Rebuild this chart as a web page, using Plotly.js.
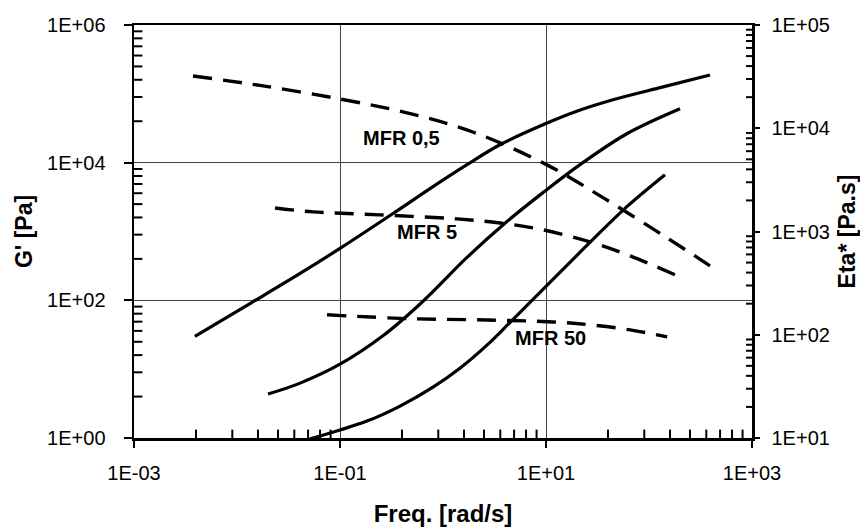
<!DOCTYPE html>
<html>
<head>
<meta charset="utf-8">
<script src="https://cdn.plot.ly/plotly-3.0.1.min.js"></script>
<style>html,body{margin:0;padding:0;background:#fff;}#chart{width:860px;height:527px;}</style>
</head>
<body>
<div id="chart"></div>
<script>
// Frequency [rad/s] and G' [Pa] per grade
const freqG05 = [0.0039, 0.014, 0.041, 0.1, 0.327, 0.748, 1.71, 3.57, 9.35, 20.5, 44.7, 137, 391];
const gG05    = [30, 93.6, 246, 568, 1824, 4200, 9350, 18200, 35500, 56700, 81900, 126000, 188000];

const freqG5  = [0.02, 0.041, 0.1, 0.261, 0.64, 1.71, 4.18, 9.35, 21.4, 61, 200];
const gG5     = [4.35, 6.27, 11.8, 30.5, 97, 420, 1396, 3670, 9350, 26300, 60600];

const freqG50 = [0.0512, 0.1, 0.183, 0.383, 0.80, 1.46, 2.67, 4.79, 9.78, 26.7, 61, 143];
const gG50    = [0.97, 1.31, 1.76, 2.91, 5.48, 10.3, 22.3, 53.1, 154, 693, 2300, 6700];

// Frequency [rad/s] and Eta* [Pa.s] per grade
const freqE05 = [0.00374, 0.0179, 0.1, 0.447, 1.95, 10.2, 37.4, 150, 391];
const eE05    = [32100, 25700, 19200, 14100, 9200, 4420, 2070, 867, 465];

const freqE5  = [0.0234, 0.0547, 0.244, 1.37, 3.57, 9.35, 26.7, 65.5, 200];
const eE5     = [1690, 1549, 1450, 1324, 1210, 1038, 793, 581, 363];

const freqE50 = [0.0748, 0.479, 2.67, 11.7, 26.7, 65.5, 150];
const eE50    = [156, 143, 139, 133, 125, 111.5, 95.5];

const xTickVals = [1e-3, 1e-1, 1e1, 1e3];
const xTickText = ["1E-03", "1E-01", "1E+01", "1E+03"];
const yTickVals = [1, 1e2, 1e4, 1e6];
const yTickText = ["1E+00", "1E+02", "1E+04", "1E+06"];
const y2TickVals = [1e1, 1e2, 1e3, 1e4, 1e5];
const y2TickText = ["1E+01", "1E+02", "1E+03", "1E+04", "1E+05"];

const labels = [
  {text: "MFR 0,5", lx: -0.40, ly: 4.36},
  {text: "MFR 5",   lx: -0.155, ly: 2.99},
  {text: "MFR 50",  lx: 1.04, ly: 1.46}
];

// minor tick values
function squareMinor(bases){
  const out = [];
  bases.forEach(b => { for (let k = 2; k <= 9; k++) out.push(b * k * k); });
  return out;
}
function decadeMinor(bases){
  const out = [];
  bases.forEach(b => { for (let k = 2; k <= 9; k++) out.push(b * k); });
  return out;
}
const xMinor = squareMinor([1e-3, 1e-1, 1e1]);
const yMinor = squareMinor([1, 1e2, 1e4]);
const y2Minor = decadeMinor([1e1, 1e2, 1e3, 1e4]);

const W = 860, H = 527, M = {l: 134, r: 108, t: 25, b: 89};
const plotW = W - M.l - M.r, plotH = H - M.t - M.b;
const X_RANGE = [-3, 3], Y_RANGE = [0, 6], Y2_RANGE = [1, 5];
// offset (in decades) that moves a tick mark a few pixels inside the frame
const dxDec = px => px * (X_RANGE[1] - X_RANGE[0]) / plotW;
const dyDec = px => px * (Y_RANGE[1] - Y_RANGE[0]) / plotH;

const FONT = "Liberation Sans, Arial, Helvetica, sans-serif";
const solid = {color: "#000", width: 3.2, shape: "spline", smoothing: 1.0};
const dashed = {color: "#000", width: 3.4, dash: "19px,11px", shape: "spline", smoothing: 1.0};

function tickTrace(xs, ys, symbol, size, yaxis){
  return {x: xs, y: ys, yaxis: yaxis || "y", mode: "markers", hoverinfo: "skip", showlegend: false,
    cliponaxis: false,
    marker: {symbol: symbol, size: size, color: "#000", line: {color: "#000", width: 2}}};
}

const traces = [
  {x: freqG05, y: gG05, mode: "lines", line: solid, name: "G' MFR 0,5"},
  {x: freqG5,  y: gG5,  mode: "lines", line: solid, name: "G' MFR 5"},
  {x: freqG50, y: gG50, mode: "lines", line: solid, name: "G' MFR 50"},
  {x: freqE05, y: eE05, mode: "lines", line: dashed, yaxis: "y2", name: "Eta* MFR 0,5"},
  {x: freqE5,  y: eE5,  mode: "lines", line: dashed, yaxis: "y2", name: "Eta* MFR 5"},
  {x: freqE50, y: eE50, mode: "lines", line: dashed, yaxis: "y2", name: "Eta* MFR 50"},
  // minor tick marks (inside the frame)
  tickTrace(xMinor, xMinor.map(() => Math.pow(10, Y_RANGE[0] + dyDec(3.5))), "line-ns-open", 7),
  tickTrace(yMinor.map(() => Math.pow(10, X_RANGE[0] + dxDec(3.5))), yMinor, "line-ew-open", 7),
  tickTrace(y2Minor.map(() => Math.pow(10, X_RANGE[1] - dxDec(2.5))), y2Minor, "line-ew-open", 5, "y2")
];

const layout = {
  width: W, height: H,
  margin: M,
  paper_bgcolor: "#fff", plot_bgcolor: "#fff",
  showlegend: false,
  font: {family: FONT, color: "#000", size: 20},
  xaxis: {
    type: "log", range: X_RANGE,
    tickmode: "array", tickvals: xTickVals, ticktext: xTickText,
    ticks: "outside", ticklen: 7, tickwidth: 2, tickcolor: "#000",
    ticklabelstandoff: 8,
    showline: true, linecolor: "#000", linewidth: 2.5, mirror: true,
    showgrid: true, gridcolor: "#444", gridwidth: 1,
    zeroline: false,
    tickfont: {family: FONT, size: 20, color: "#000"},
    title: {text: "Freq. [rad/s]", font: {family: FONT, size: 24, color: "#000", weight: "bold"}, standoff: 26}
  },
  yaxis: {
    type: "log", range: Y_RANGE,
    tickmode: "array", tickvals: yTickVals, ticktext: yTickText,
    ticks: "outside", ticklen: 8, tickwidth: 2, tickcolor: "#000",
    ticklabelstandoff: 14,
    showline: true, linecolor: "#000", linewidth: 2.5,
    showgrid: true, gridcolor: "#444", gridwidth: 1,
    zeroline: false,
    tickfont: {family: FONT, size: 20, color: "#000"},
    title: {text: "G' [Pa]", font: {family: FONT, size: 23, color: "#000", weight: "bold"}, standoff: 8}
  },
  yaxis2: {
    type: "log", range: Y2_RANGE, overlaying: "y", side: "right", anchor: "x",
    tickmode: "array", tickvals: y2TickVals, ticktext: y2TickText,
    ticks: "outside", ticklen: 5, tickwidth: 2, tickcolor: "#000",
    ticklabelstandoff: 8,
    showline: true, linecolor: "#000", linewidth: 2.5,
    showgrid: false, zeroline: false,
    tickfont: {family: FONT, size: 20, color: "#000"},
    title: {text: "Eta* [Pa.s]", font: {family: FONT, size: 23, color: "#000", weight: "bold"}, standoff: 14}
  },
  annotations: labels.map(l => ({
    text: "<b>" + l.text + "</b>", x: l.lx, y: l.ly, xref: "x", yref: "y",
    showarrow: false, font: {family: FONT, size: 20, color: "#000"}
  }))
};

Plotly.newPlot("chart", traces, layout, {staticPlot: true, displayModeBar: false});
</script>
</body>
</html>
